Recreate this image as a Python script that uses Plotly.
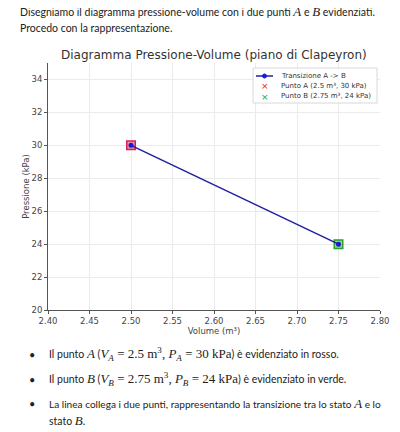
import plotly.graph_objects as go

# dati del diagramma
volumes = [2.5, 2.75]
pressures = [30, 24]
line_name = "Transizione A -> B"
point_names = ["Punto A (2.5 m³, 30 kPa)", "Punto B (2.75 m³, 24 kPa)"]
point_colors = ["#d62728", "#2ca02c"]
x_ticks = [2.40, 2.45, 2.50, 2.55, 2.60, 2.65, 2.70, 2.75, 2.80]
y_ticks = [20, 22, 24, 26, 28, 30, 32, 34]

# la pagina ha un margine di 8px: la figura parte da (8, 8)
OFF = 8
W, H = 400 - OFF, 432 - OFF
L, R, T, B = 48 - OFF, 20, 63 - OFF, 122
PW, PH = W - L - R, H - T - B


def px(x):
    return (x - OFF - L) / PW


def py(y):
    return (H - B - (y - OFF)) / PH


fig = go.Figure()

# quadrati sotto i punti
fig.add_trace(go.Scatter(
    x=volumes[:1], y=pressures[:1], mode="markers", showlegend=False,
    marker=dict(symbol="square", size=8.5, color="rgba(230,120,150,0.8)",
                line=dict(color="#d62050", width=1.5)),
))
fig.add_trace(go.Scatter(
    x=volumes[1:], y=pressures[1:], mode="markers", showlegend=False,
    marker=dict(symbol="square", size=8.5, color="rgba(120,200,120,0.8)",
                line=dict(color="#2ca02c", width=1.5)),
))

fig.add_trace(go.Scatter(
    x=volumes, y=pressures, mode="lines+markers", name=line_name, showlegend=False,
    line=dict(color="#2020a0", width=1.5),
    marker=dict(symbol="circle", size=5, color="#1a1ad0"),
))

tick_font = dict(family="DejaVu Sans", size=8.5, color="#444")
lab_font = dict(family="DejaVu Sans", size=8.5, color="#444")
fig.update_xaxes(
    range=[2.40, 2.80], tickvals=x_ticks, ticktext=[f"{t:.2f}" for t in x_ticks],
    showgrid=True, gridcolor="#ebebeb", gridwidth=1,
    showline=True, linecolor="#555", linewidth=1, zeroline=False,
    ticks="outside", ticklen=3, tickcolor="#555", tickfont=tick_font,
    title=dict(text="Volume (m³)", font=lab_font, standoff=1),
)
fig.update_yaxes(
    range=[20, 35], tickvals=y_ticks,
    showgrid=True, gridcolor="#ebebeb", gridwidth=1,
    showline=True, linecolor="#555", linewidth=1, zeroline=False,
    ticks="outside", ticklen=3, tickcolor="#555", tickfont=tick_font,
    title=dict(text="Pressione (kPa)", font=lab_font, standoff=0),
)

# legenda disegnata a mano (più compatta di quella di plotly)
fig.add_shape(type="rect", xref="paper", yref="paper",
              x0=px(253), x1=px(377), y0=py(103), y1=py(68),
              line=dict(color="#d8d8d8", width=1), fillcolor="rgba(255,255,255,0.9)")
fig.add_shape(type="line", xref="paper", yref="paper",
              x0=px(256), x1=px(273), y0=py(76), y1=py(76),
              line=dict(color="#2020a0", width=1.5))
fig.add_shape(type="circle", xref="paper", yref="paper",
              x0=px(262.5), x1=px(266.5), y0=py(78), y1=py(74),
              line=dict(color="#1a1ad0", width=1), fillcolor="#1a1ad0")
leg_font = dict(family="DejaVu Sans", size=7, color="#333")
labels = [line_name] + point_names
for i, lab in enumerate(labels):
    fig.add_annotation(x=px(279), y=py(76 + 10 * i), xref="paper", yref="paper",
                       text=lab, showarrow=False, xanchor="left", yanchor="middle",
                       font=leg_font)
for i, c in enumerate(point_colors):
    fig.add_annotation(x=px(264.5), y=py(86.5 + 10 * i), xref="paper", yref="paper",
                       text="×", showarrow=False, xanchor="center", yanchor="middle",
                       font=dict(family="DejaVu Sans", size=9, color=c))

serif_i = '<span style="font-family:Liberation Serif;font-style:italic;font-size:13px">'
serif = '<span style="font-family:Liberation Serif;font-size:13px">'

notes = [
    (18, 11, 10.5, "Disegniamo il diagramma pressione-volume con i due punti "
     + serif_i + "A</span> e " + serif_i + "B</span> evidenziati."),
    (18, 28, 10.5, "Procedo con la rappresentazione."),
    (47, 354, 10.5, "Il punto " + serif_i + "A</span> (" + serif_i + "V<sub>A</sub></span>"
     + serif + " = 2.5 m<sup>3</sup>, </span>" + serif_i + "P<sub>A</sub></span>"
     + serif + " = 30 kPa</span>) è evidenziato in rosso."),
    (47, 379, 10.5, "Il punto " + serif_i + "B</span> (" + serif_i + "V<sub>B</sub></span>"
     + serif + " = 2.75 m<sup>3</sup>, </span>" + serif_i + "P<sub>B</sub></span>"
     + serif + " = 24 kPa</span>) è evidenziato in verde."),
    (47, 403, 10.1, "La linea collega i due punti, rappresentando la transizione tra lo stato "
     + serif_i + "A</span> e lo"),
    (47, 420, 10.5, "stato " + serif_i + "B</span>."),
]
for x, y, s, t in notes:
    fig.add_annotation(x=px(x), y=py(y), xref="paper", yref="paper", text=t,
                       showarrow=False, xanchor="left", yanchor="middle",
                       font=dict(family="Lato", size=s, color="#222"))

for y in [354, 379, 403]:
    fig.add_annotation(x=px(32), y=py(y), xref="paper", yref="paper", text="•",
                       showarrow=False, xanchor="center", yanchor="middle",
                       font=dict(family="Lato", size=11, color="#222"))

fig.add_annotation(x=px(214), y=py(55), xref="paper", yref="paper",
                   text="Diagramma Pressione-Volume (piano di Clapeyron)",
                   showarrow=False, xanchor="center", yanchor="middle",
                   font=dict(family="DejaVu Sans", size=12, color="#333"))

fig.update_layout(
    width=W, height=H,
    margin=dict(l=L, r=R, t=T, b=B),
    paper_bgcolor="white", plot_bgcolor="white",
    showlegend=False,
)

fig.write_html("out.html")
